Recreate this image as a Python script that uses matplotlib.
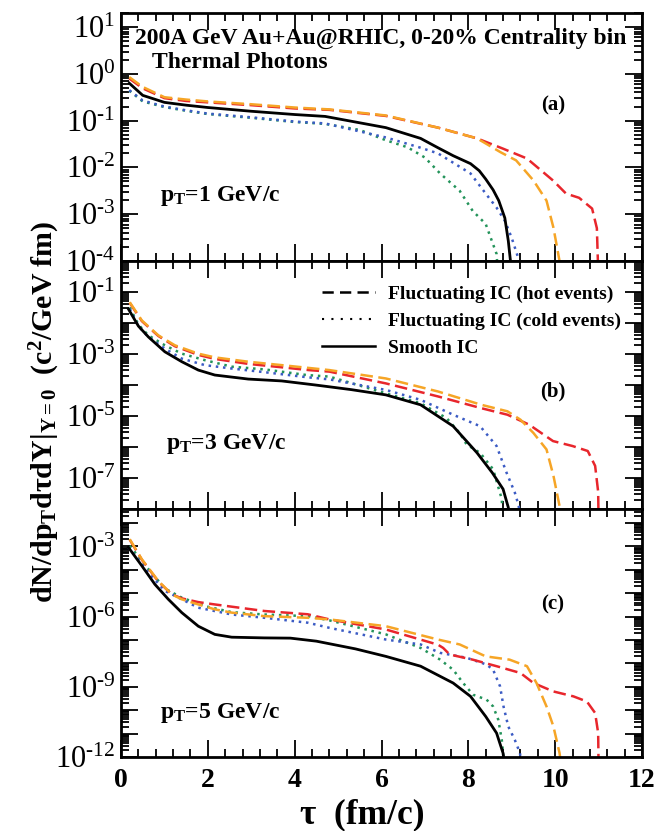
import matplotlib
matplotlib.use("Agg")
import matplotlib.pyplot as plt
import numpy as np
from matplotlib.ticker import LogLocator, MultipleLocator, FuncFormatter, NullFormatter
from matplotlib.lines import Line2D

plt.rcParams['font.family'] = ['Liberation Serif', 'DejaVu Serif']
plt.rcParams['mathtext.fontset'] = 'custom'
plt.rcParams['mathtext.rm'] = 'Liberation Serif'
plt.rcParams['mathtext.bf'] = 'Liberation Serif:bold'
plt.rcParams['mathtext.it'] = 'Liberation Serif:italic'

RED = '#e8262c'
ORANGE = '#f6a526'
BLUE = '#3b5bc4'
GREEN = '#23935a'

# ---- panel (a): pT = 1 GeV/c  (values stored as log10) ----
a_red_x = [0.19, 0.5, 1, 1.5, 2, 3, 4, 4.8, 6.1, 7.3, 8.2, 8.8, 9.35, 9.95, 10.25, 10.55, 10.85, 10.96, 11.0]
a_red_y = [-0.10, -0.31, -0.52, -0.58, -0.61, -0.67, -0.74, -0.77, -0.90, -1.15, -1.38, -1.60, -1.81, -2.28, -2.56, -2.65, -2.88, -3.3, -4.5]
a_orange_x = [0.19, 0.5, 1, 1.5, 2, 3, 4, 4.8, 6.1, 7.3, 8.2, 8.75, 9.1, 9.5, 9.8, 9.96, 10.1, 10.15]
a_orange_y = [-0.07, -0.28, -0.50, -0.55, -0.59, -0.65, -0.72, -0.76, -0.89, -1.15, -1.38, -1.68, -1.85, -2.28, -2.71, -3.29, -4.0, -4.5]
a_black_x = [0.19, 0.5, 1, 1.5, 2, 3, 4, 4.7, 6.1, 6.9, 7.3, 7.65, 8.05, 8.25, 8.4, 8.57, 8.7, 8.84, 8.92, 8.97, 9.0]
a_black_y = [-0.20, -0.46, -0.61, -0.67, -0.72, -0.80, -0.87, -0.91, -1.15, -1.38, -1.58, -1.75, -1.92, -2.07, -2.25, -2.48, -2.71, -3.08, -3.57, -4.0, -4.5]
a_blue_x = [0.19, 0.5, 1, 1.5, 2, 3, 4, 4.7, 6.1, 6.9, 7.3, 7.65, 8.05, 8.4, 8.65, 8.84, 9.0, 9.15, 9.2]
a_blue_y = [-0.35, -0.57, -0.70, -0.78, -0.85, -0.93, -1.02, -1.06, -1.36, -1.58, -1.70, -1.90, -2.13, -2.56, -2.86, -3.14, -3.51, -3.94, -4.5]
a_green_x = [0.19, 0.5, 1, 1.5, 2, 3, 4, 4.7, 5.5, 6.1, 6.6, 7.0, 7.35, 7.8, 8.1, 8.4, 8.65, 8.7]
a_green_y = [-0.36, -0.59, -0.71, -0.79, -0.86, -0.94, -1.03, -1.07, -1.20, -1.42, -1.57, -1.79, -2.13, -2.50, -2.93, -3.21, -3.85, -4.5]

# ---- panel (b): pT = 3 GeV/c ----
b_red_x = [0.2, 0.48, 0.86, 1.24, 1.78, 2.16, 2.93, 3.7, 4.32, 4.8, 6.1, 7.3, 8.3, 8.9, 9.4, 9.95, 10.4, 10.75, 10.92, 10.99, 11.0]
b_red_y = [-1.35, -1.94, -2.42, -2.75, -3.03, -3.16, -3.32, -3.43, -3.52, -3.57, -3.95, -4.37, -4.75, -4.96, -5.28, -5.81, -5.97, -6.13, -6.61, -7.45, -8.5]
b_orange_x = [0.2, 0.48, 0.86, 1.24, 1.78, 2.16, 2.93, 3.7, 4.32, 4.8, 6.1, 7.3, 8.3, 8.9, 9.2, 9.5, 9.8, 9.96, 10.1, 10.15]
b_orange_y = [-1.33, -1.92, -2.4, -2.72, -2.99, -3.11, -3.25, -3.36, -3.45, -3.52, -3.79, -4.21, -4.64, -4.85, -5.12, -5.55, -6.08, -6.93, -7.9, -8.5]
b_black_x = [0.17, 0.4, 0.63, 1.01, 1.4, 1.78, 2.16, 2.93, 3.7, 4.47, 5.3, 6.1, 6.9, 7.65, 8.2, 8.55, 8.8, 8.92, 8.95]
b_black_y = [-1.55, -2.1, -2.45, -2.93, -3.25, -3.52, -3.68, -3.81, -3.87, -4.0, -4.15, -4.32, -4.64, -5.33, -6.19, -6.83, -7.36, -7.95, -8.5]
b_blue_x = [0.2, 0.4, 0.63, 1.01, 1.4, 1.93, 2.55, 3.32, 4.28, 4.8, 6.1, 6.9, 7.65, 8.27, 8.65, 8.88, 9.07, 9.16, 9.2]
b_blue_y = [-1.55, -2.1, -2.45, -2.83, -3.15, -3.36, -3.47, -3.59, -3.75, -3.82, -4.16, -4.48, -4.96, -5.33, -5.97, -6.83, -7.47, -7.9, -8.5]
b_green_x = [0.2, 0.4, 0.63, 1.01, 1.4, 1.93, 2.55, 3.32, 4.28, 4.8, 6.1, 6.9, 7.5, 7.8, 7.96, 8.27, 8.57, 8.77, 8.8]
b_green_y = [-1.5, -2.05, -2.4, -2.72, -2.99, -3.2, -3.41, -3.5, -3.68, -3.73, -4.27, -4.59, -5.07, -5.55, -5.92, -6.19, -6.72, -7.68, -8.5]

# ---- panel (c): pT = 5 GeV/c ----
c_red_x = [0.2, 0.48, 0.86, 1.17, 1.4, 1.78, 2.16, 3.3, 4.3, 4.8, 6.1, 7.3, 7.42, 7.57, 8.1, 8.65, 9.2, 9.5, 9.96, 10.42, 10.73, 10.92, 10.99, 11.0]
c_red_y = [-2.71, -3.57, -4.5, -5.05, -5.22, -5.38, -5.48, -5.76, -5.9, -6.12, -6.55, -7.2, -7.34, -7.62, -7.84, -8.12, -8.41, -8.84, -9.2, -9.41, -9.63, -10.12, -10.98, -12.5]
c_orange_x = [0.2, 0.48, 0.86, 1.17, 1.4, 1.78, 2.16, 2.55, 3.3, 4.3, 4.8, 6.1, 7.3, 7.8, 8.4, 8.95, 9.35, 9.57, 9.8, 9.96, 10.1, 10.15]
c_orange_y = [-2.69, -3.55, -4.48, -5.05, -5.26, -5.48, -5.69, -5.83, -5.98, -6.05, -6.12, -6.41, -6.98, -7.19, -7.70, -7.84, -8.12, -8.84, -9.84, -10.7, -11.83, -12.5]
c_black_x = [0.17, 0.48, 0.78, 1.09, 1.4, 1.78, 2.16, 2.55, 3.3, 3.9, 4.5, 5.4, 6.1, 6.9, 7.65, 8.05, 8.4, 8.65, 8.8, 8.85]
c_black_y = [-3.04, -3.83, -4.62, -5.26, -5.83, -6.41, -6.76, -6.88, -6.91, -6.92, -7.05, -7.38, -7.7, -8.12, -8.84, -9.41, -10.27, -10.98, -11.84, -12.5]
c_blue_x = [0.17, 0.63, 1.01, 1.4, 1.78, 2.55, 3.3, 4.3, 4.8, 6.1, 6.9, 7.35, 7.96, 8.42, 8.57, 8.73, 8.81, 8.92, 9.07, 9.19, 9.22]
c_blue_y = [-3.04, -4.12, -4.9, -5.26, -5.62, -5.91, -6.05, -6.26, -6.48, -6.98, -7.19, -7.55, -7.76, -8.05, -8.27, -8.98, -9.84, -10.7, -11.27, -11.84, -12.5]
c_green_x = [0.2, 0.63, 1.01, 1.4, 1.93, 2.55, 3.3, 4.3, 4.8, 6.1, 6.9, 7.35, 7.65, 7.88, 8.11, 8.42, 8.57, 8.69, 8.77, 8.8, 8.82]
c_green_y = [-2.97, -3.97, -4.8, -5.19, -5.55, -5.81, -5.91, -5.98, -6.16, -6.76, -7.34, -7.84, -8.27, -8.84, -9.34, -9.55, -9.84, -10.41, -11.27, -11.84, -12.5]

pt_labels = ['1', '3', '5']
panel_tags = ['(a)', '(b)', '(c)']
y_limits = [(1e-4, 20), (1e-8, 1), (1e-12, 4e-2)]
y_label_exps = [[1, 0, -1, -2, -3, -4], [-1, -3, -5, -7], [-3, -6, -9, -12]]

panels = [
    dict(red=(a_red_x, a_red_y), orange=(a_orange_x, a_orange_y), black=(a_black_x, a_black_y),
         blue=(a_blue_x, a_blue_y), green=(a_green_x, a_green_y)),
    dict(red=(b_red_x, b_red_y), orange=(b_orange_x, b_orange_y), black=(b_black_x, b_black_y),
         blue=(b_blue_x, b_blue_y), green=(b_green_x, b_green_y)),
    dict(red=(c_red_x, c_red_y), orange=(c_orange_x, c_orange_y), black=(c_black_x, c_black_y),
         blue=(c_blue_x, c_blue_y), green=(c_green_x, c_green_y)),
]

DASH = (0, (5, 2.2))
DOT = (0, (1, 1.9))
LW = 1.8


def exp_label(v, pos, exps):
    e = int(round(np.log10(v)))
    if e not in exps:
        return ''
    # short hyphen as in the original instead of the wide minus sign
    sup = str(e) if e >= 0 else r'\text{-}' + str(-e)
    return r'$\mathregular{10^{%s}}$' % sup


fig = plt.figure(figsize=(6.57, 8.31), dpi=100)
gs = fig.add_gridspec(3, 1, left=0.1842, right=0.9772, top=0.9844, bottom=0.0891, hspace=0)
axes = [fig.add_subplot(gs[i]) for i in range(3)]

for i, ax in enumerate(axes):
    d = panels[i]
    ax.plot(d['green'][0], 10 ** np.array(d['green'][1]), color=GREEN, ls=DOT, lw=LW)
    ax.plot(d['blue'][0], 10 ** np.array(d['blue'][1]), color=BLUE, ls=DOT, lw=LW)
    ax.plot(d['black'][0], 10 ** np.array(d['black'][1]), color='black', ls='-', lw=LW + 0.2)
    ax.plot(d['red'][0], 10 ** np.array(d['red'][1]), color=RED, ls=DASH, lw=LW)
    ax.plot(d['orange'][0], 10 ** np.array(d['orange'][1]), color=ORANGE, ls=DASH, lw=LW)

    ax.set_yscale('log')
    ax.set_ylim(*y_limits[i])
    ax.set_xlim(0, 12)

    exps = y_label_exps[i]
    ax.yaxis.set_major_locator(LogLocator(base=10, numticks=30))
    ax.yaxis.set_minor_locator(LogLocator(base=10, subs=np.arange(2, 10), numticks=30))
    ax.yaxis.set_minor_formatter(NullFormatter())
    ax.yaxis.set_major_formatter(FuncFormatter(lambda v, p, exps=exps: exp_label(v, p, exps)))

    ax.xaxis.set_major_locator(MultipleLocator(2))
    ax.xaxis.set_minor_locator(MultipleLocator(0.4))
    ax.tick_params(which='both', direction='in', top=True, right=True, width=1.3)
    ax.tick_params(which='major', length=12)
    ax.tick_params(which='minor', length=6)
    ax.tick_params(axis='y', labelsize=22, pad=4)
    for s in ax.spines.values():
        s.set_linewidth(2)

    if i < 2:
        ax.tick_params(axis='x', labelbottom=False)
    else:
        ax.tick_params(axis='x', labelsize=20, pad=8)
        for lab in ax.get_xticklabels():
            lab.set_fontweight('bold')

    ax.text(0.829, [0.628, 0.472, 0.615][i], panel_tags[i], transform=ax.transAxes,
            ha='center', va='center', fontsize=15, fontweight='bold')
    ax.text([0.075, 0.086, 0.075][i], [0.263, 0.26, 0.178][i],
            r'$\mathbf{p_T}$=' + pt_labels[i] + ' GeV/c', transform=ax.transAxes,
            ha='left', va='center', fontsize=17, fontweight='bold')

axes[0].text(0.027, 0.898, '200A GeV Au+Au@RHIC, 0-20% Centrality bin', transform=axes[0].transAxes,
             ha='left', va='center', fontsize=17, fontweight='bold')
axes[0].text(0.06, 0.80, 'Thermal Photons', transform=axes[0].transAxes,
             ha='left', va='center', fontsize=17, fontweight='bold')

handles = [Line2D([], [], color='black', ls=(0, (4.5, 2.5)), lw=1.8),
           Line2D([], [], color='black', ls=(0, (1, 3.5)), lw=1.5),
           Line2D([], [], color='black', ls='-', lw=1.8)]
labels = ['Fluctuating IC (hot events)', 'Fluctuating IC (cold events)', 'Smooth IC']
leg = axes[1].legend(handles, labels, loc='upper left', bbox_to_anchor=(0.386, 0.902),
                     frameon=False, borderpad=0, borderaxespad=0, handlelength=2.7,
                     handletextpad=0.7, labelspacing=0.48,
                     prop={'family': 'Liberation Serif', 'weight': 'bold', 'size': 14})

fig.text(0.068, 0.504, r'$\mathbf{dN/dp_T dτ dY|_{Y=0}\ \ (c^2/GeV\ fm)}$',
         rotation=90, ha='center', va='center', fontsize=21.5)
fig.text(0.551, 0.019, 'τ  (fm/c)', ha='center', va='center', fontsize=25.5, fontweight='bold')

fig.savefig('out.png', dpi=100)
